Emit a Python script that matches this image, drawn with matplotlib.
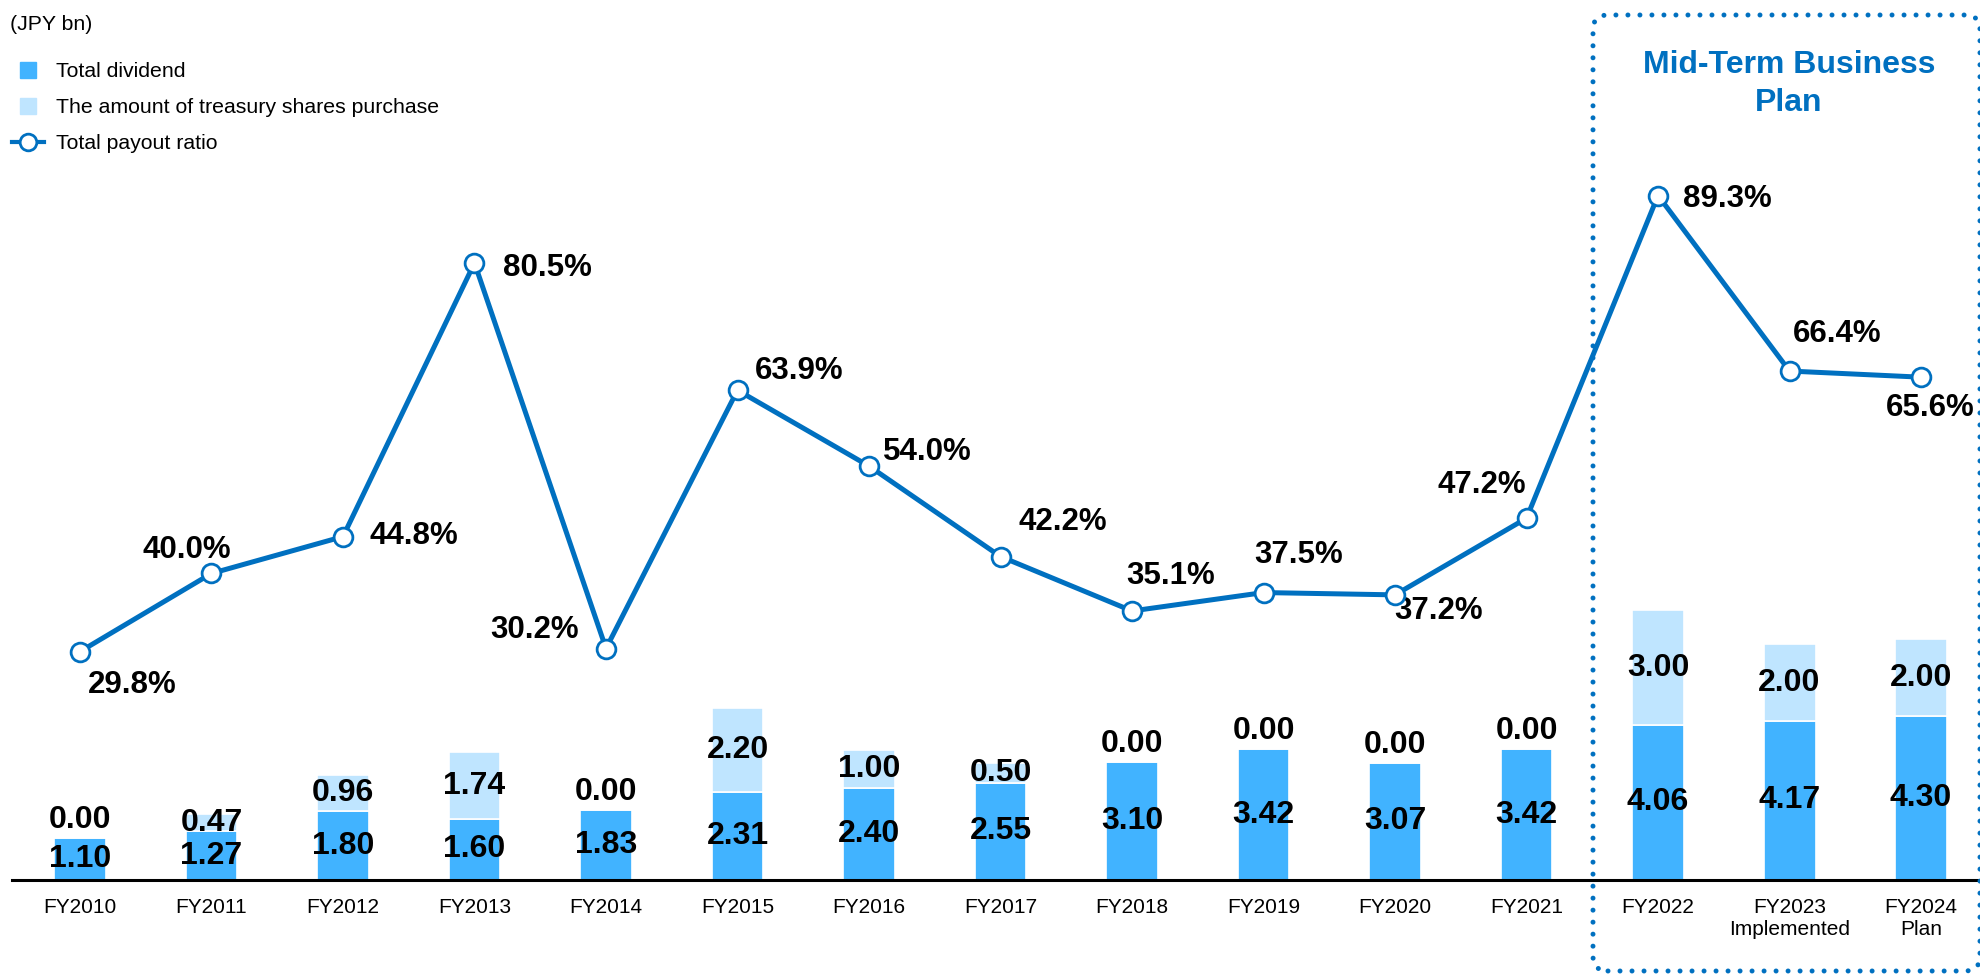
import numpy as np
import matplotlib
matplotlib.use('Agg')
import matplotlib.pyplot as plt
from matplotlib.lines import Line2D
from matplotlib.patches import FancyBboxPatch

plt.rcParams['font.family'] = ['Liberation Sans', 'DejaVu Sans']

# data
years = ['FY2010', 'FY2011', 'FY2012', 'FY2013', 'FY2014', 'FY2015', 'FY2016',
         'FY2017', 'FY2018', 'FY2019', 'FY2020', 'FY2021', 'FY2022',
         'FY2023\nImplemented', 'FY2024\nPlan']
dividend = [1.10, 1.27, 1.80, 1.60, 1.83, 2.31, 2.40, 2.55, 3.10, 3.42, 3.07, 3.42, 4.06, 4.17, 4.30]
buyback = [0.00, 0.47, 0.96, 1.74, 0.00, 2.20, 1.00, 0.50, 0.00, 0.00, 0.00, 0.00, 3.00, 2.00, 2.00]
payout = [29.8, 40.0, 44.8, 80.5, 30.2, 63.9, 54.0, 42.2, 35.1, 37.5, 37.2, 47.2, 89.3, 66.4, 65.6]

# label offsets for the payout ratio (pixels, centre of text from marker)
pct_offsets = [(52, -33), (-25, 23), (71, 1), (73, -5), (-71, 19), (62, 19), (58, 14),
               (62, 35), (39, 35), (35, 38), (44, -16), (-45, 33), (69, -3), (48, 37), (9, -31)]

c_div = '#41B3FF'
c_buy = '#BFE5FF'
c_line = '#0070C0'

W, H = 1981, 974
fig = plt.figure(figsize=(W / 100, H / 100), dpi=100)
ax = fig.add_axes([12 / W, 94 / H, 1 - 12 / W, 880 / H])
ax2 = ax.twinx()

x = np.arange(len(years))
div = np.array(dividend)
buy = np.array(buyback)

ax.bar(x, div, width=0.395, color=c_div, edgecolor='white', linewidth=1.2, zorder=2)
ax.bar(x, buy, bottom=div, width=0.395, color=c_buy, edgecolor='white', linewidth=1.2, zorder=2)

for i in range(len(x)):
    ax.text(x[i], div[i] / 2, f'{div[i]:.2f}', ha='center', va='center',
            fontsize=23, fontweight='bold', zorder=4)
    if buy[i] > 0:
        ax.text(x[i], div[i] + buy[i] / 2, f'{buy[i]:.2f}', ha='center', va='center',
                fontsize=23, fontweight='bold', zorder=4)
    else:
        ax.annotate(f'{buy[i]:.2f}', (x[i], div[i]), xytext=(0, 18), textcoords='offset pixels',
                    ha='center', va='center', fontsize=23, fontweight='bold', zorder=4)

ax.set_xlim(-0.517, 14.456)
ax.set_ylim(0, 880 / 38.2)
ax2.set_ylim(0, 880 / 7.665)

ax2.plot(x, payout, color=c_line, lw=3.6, marker='o', ms=13.5, mfc='white',
         mec=c_line, mew=2, zorder=5)
for i, v in enumerate(payout):
    ax2.annotate(f'{v:.1f}%', (x[i], v), xytext=pct_offsets[i], textcoords='offset pixels',
                 ha='center', va='center', fontsize=22.5, fontweight='bold')

ax.set_xticks(x)
ax.set_xticklabels(years, fontsize=15, linespacing=1.2)
ax.tick_params(axis='x', length=0, pad=13)
ax.set_yticks([])
ax2.set_yticks([])
for s in ['top', 'left', 'right']:
    ax.spines[s].set_visible(False)
    ax2.spines[s].set_visible(False)
ax2.spines['bottom'].set_visible(False)
ax.spines['bottom'].set_linewidth(2.2)
ax.spines['bottom'].set_color('black')

# unit + legend
fig.text(10 / W, 1 - 24 / H, '(JPY bn)', fontsize=15.3, ha='left', va='center')
handles = [Line2D([], [], marker='s', ls='none', color=c_div, ms=11),
           Line2D([], [], marker='s', ls='none', color=c_buy, ms=11),
           Line2D([], [], color=c_line, lw=3, marker='o', ms=12, mfc='white', mec=c_line, mew=2)]
labels = ['Total dividend', 'The amount of treasury shares purchase', 'Total payout ratio']
fig.legend(handles, labels, loc='upper left', bbox_to_anchor=(12 / W, 1 - 62 / H),
           frameon=False, fontsize=15.3, borderpad=0, borderaxespad=0, handlelength=1.5,
           handletextpad=0.55, labelspacing=0.8)

# mid-term plan box
box = FancyBboxPatch((15.93, 0.03), 3.87, 9.56, boxstyle='round,pad=0,rounding_size=0.15',
                     transform=fig.dpi_scale_trans, fill=False, edgecolor=c_line,
                     linewidth=3.6, linestyle=(0, (0.001, 2.4)), zorder=10)
box.set_capstyle('round')
fig.add_artist(box)
fig.text(1789 / W, 1 - 84 / H, 'Mid-Term Business\nPlan', ha='center', va='center',
         fontsize=23, fontweight='bold', color=c_line, linespacing=1.37)

fig.savefig('out.png', dpi=100)
